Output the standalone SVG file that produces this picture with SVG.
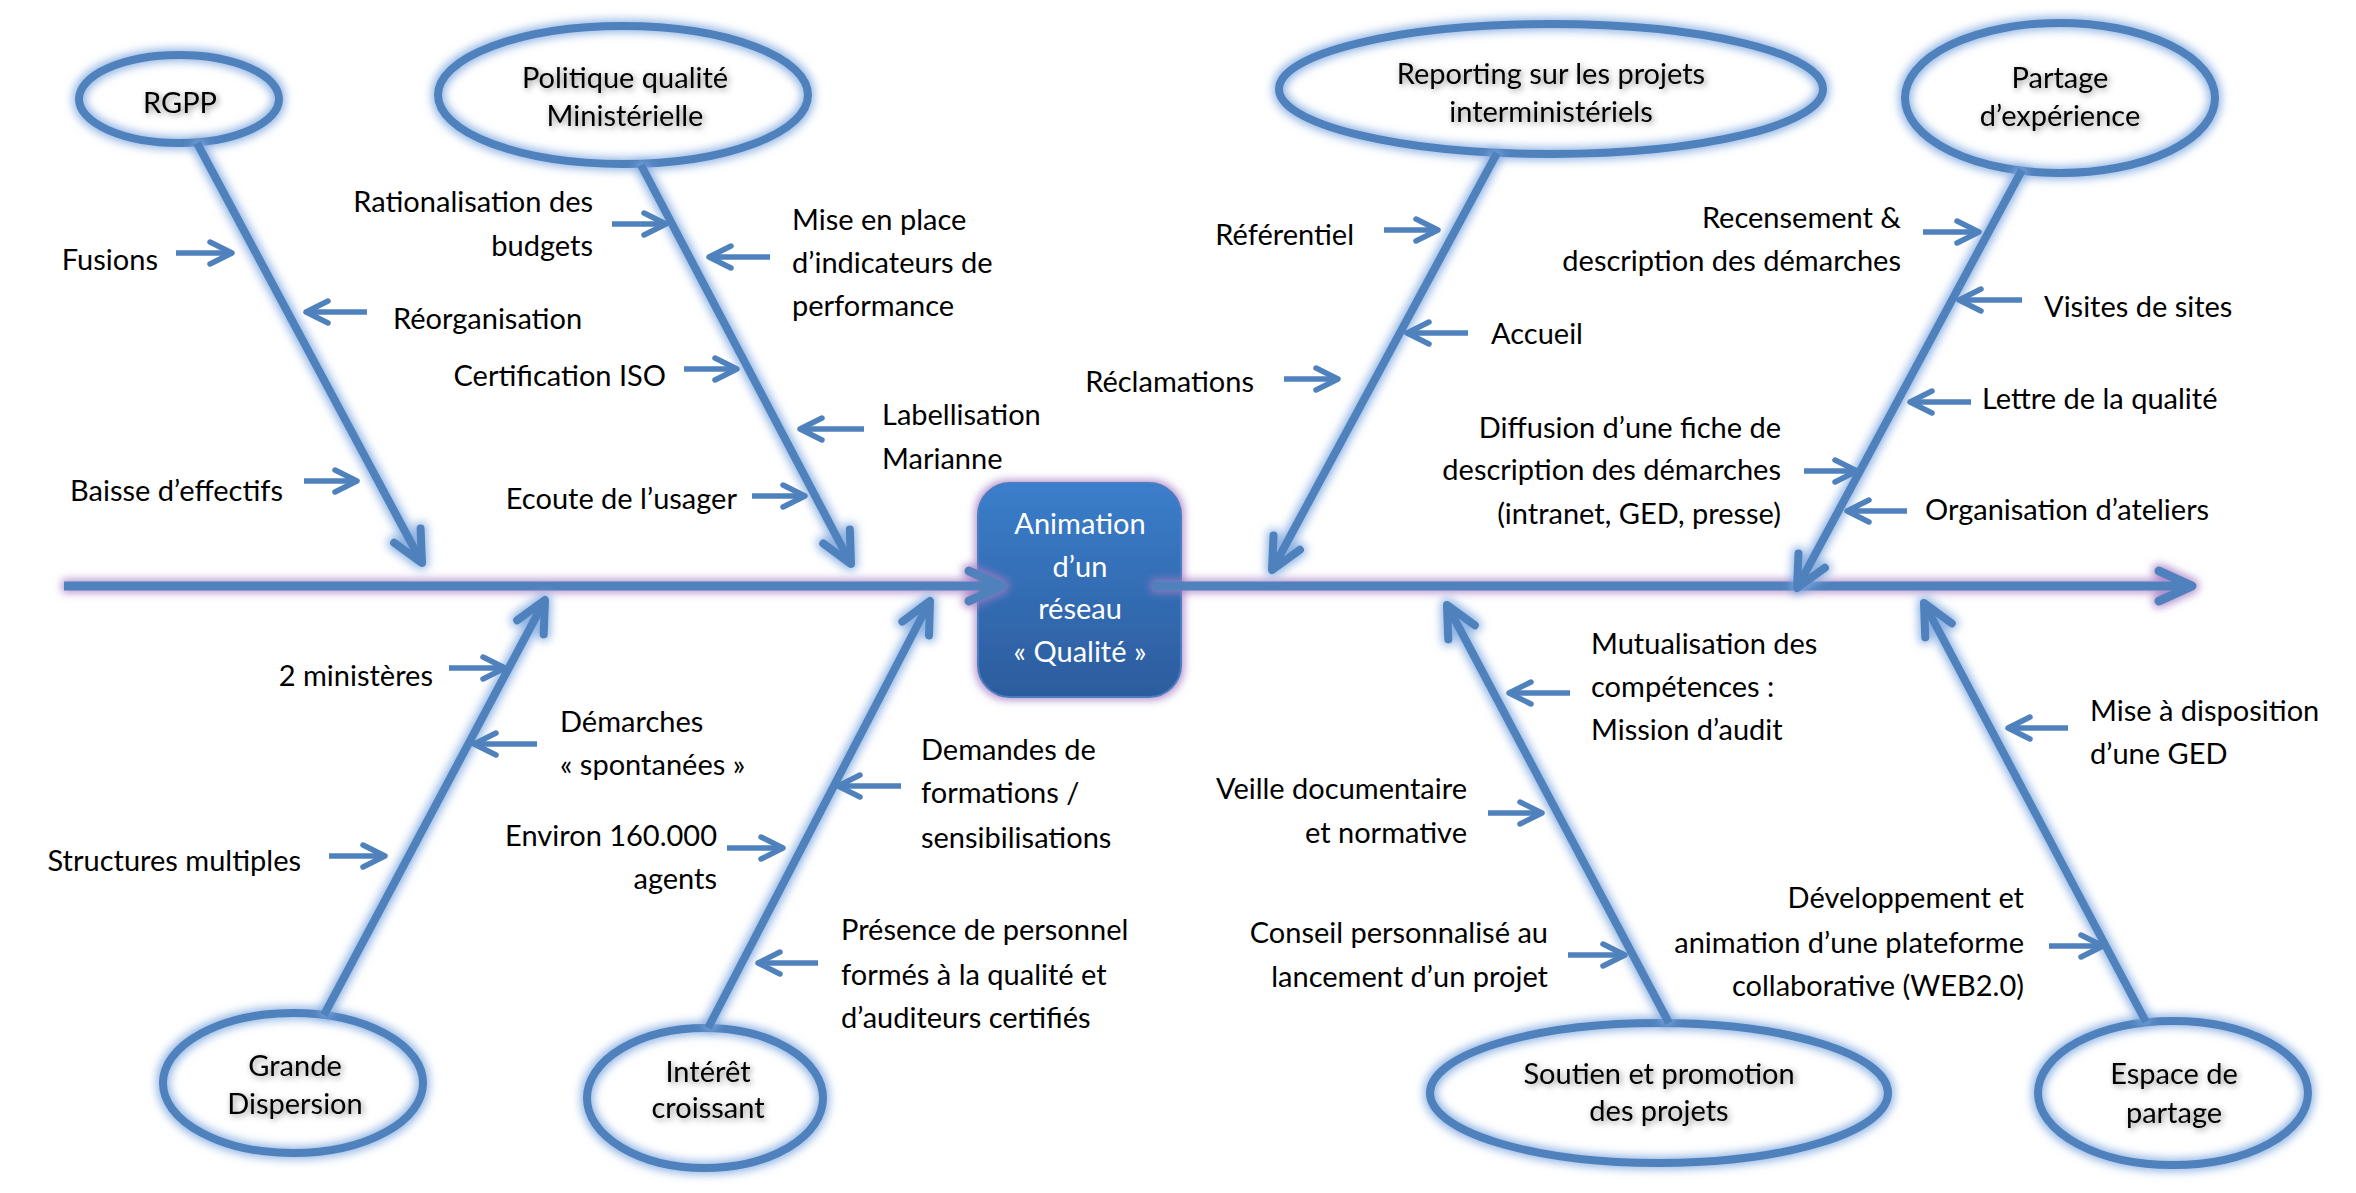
<svg xmlns="http://www.w3.org/2000/svg" width="2356" height="1193" viewBox="0 0 2356 1193">
<style>
  text{font-family:Lato,"Liberation Sans",sans-serif;font-size:29px;fill:#000}
  .e{text-anchor:end}
  .m{text-anchor:middle}
  .ell text{text-anchor:middle;filter:url(#tsh)}
  .ell ellipse{fill:none;stroke:#4f81bd;stroke-width:8;filter:url(#glowB)}
  .box text{fill:#fff;text-anchor:middle}
  .br{stroke:#4f81bd;stroke-width:8;fill:none;marker-end:url(#aB)}
  .sm{stroke:#4f81bd;stroke-width:5.5;fill:none;marker-end:url(#aS)}
  .sp{stroke:#4f81bd;stroke-width:9;fill:none;marker-end:url(#aP)}
</style>
<defs>
  <linearGradient id="boxG" x1="0" y1="0" x2="0" y2="1">
    <stop offset="0" stop-color="#3b7ecb"/>
    <stop offset="1" stop-color="#2c5c9d"/>
  </linearGradient>
  <filter id="glowB" filterUnits="userSpaceOnUse" x="0" y="0" width="2356" height="1193">
    <feMorphology in="SourceAlpha" operator="dilate" radius="2" result="d"/>
    <feGaussianBlur in="d" stdDeviation="5" result="b"/>
    <feFlood flood-color="#7fa8df" flood-opacity="0.9"/>
    <feComposite in2="b" operator="in" result="g"/>
    <feMerge><feMergeNode in="g"/><feMergeNode in="SourceGraphic"/></feMerge>
  </filter>
  <filter id="glowP" filterUnits="userSpaceOnUse" x="0" y="0" width="2356" height="1193">
    <feMorphology in="SourceAlpha" operator="dilate" radius="2" result="d"/>
    <feGaussianBlur in="d" stdDeviation="4" result="b"/>
    <feFlood flood-color="#a47cc4" flood-opacity="0.85"/>
    <feComposite in2="b" operator="in" result="g"/>
    <feMerge><feMergeNode in="g"/><feMergeNode in="SourceGraphic"/></feMerge>
  </filter>
  <filter id="tsh" filterUnits="userSpaceOnUse" x="0" y="0" width="2356" height="1193">
    <feGaussianBlur in="SourceAlpha" stdDeviation="3" result="b"/>
    <feOffset in="b" dx="2" dy="2" result="o"/>
    <feFlood flood-color="#000" flood-opacity="0.45"/>
    <feComposite in2="o" operator="in" result="s"/>
    <feMerge><feMergeNode in="s"/><feMergeNode in="SourceGraphic"/></feMerge>
  </filter>
  <marker id="aS" markerUnits="userSpaceOnUse" orient="auto" overflow="visible" refX="0" refY="0" markerWidth="30" markerHeight="30">
    <path d="M-22,-11 L0,0 L-22,11" fill="none" stroke="#4f81bd" stroke-width="5.5" stroke-linecap="round" stroke-linejoin="round"/>
  </marker>
  <marker id="aB" markerUnits="userSpaceOnUse" orient="auto" overflow="visible" refX="0" refY="0" markerWidth="40" markerHeight="40">
    <path d="M-31,-15 L0,0 L-31,15" fill="none" stroke="#4f81bd" stroke-width="8" stroke-linecap="round" stroke-linejoin="round"/>
  </marker>
  <marker id="aP" markerUnits="userSpaceOnUse" orient="auto" overflow="visible" refX="0" refY="0" markerWidth="40" markerHeight="40">
    <path d="M-33,-15 L0,0 L-33,15" fill="none" stroke="#4f81bd" stroke-width="9" stroke-linecap="round" stroke-linejoin="round"/>
  </marker>
</defs>
<rect width="2356" height="1193" fill="#fff"/>

<g id="center" class="box">
  <rect x="978" y="483" width="203" height="214" rx="32" fill="url(#boxG)" stroke="#4a7cc0" stroke-width="2" filter="url(#glowP)"/>
  <text x="1080" y="534">Animation</text>
  <text x="1080" y="577">d’un</text>
  <text x="1080" y="619">réseau</text>
  <text x="1080" y="662">« Qualité »</text>
</g>

<g id="rgpp" class="ell">
  <ellipse cx="179" cy="99" rx="100" ry="44"/>
  <text x="180" y="113">RGPP</text>
</g>
<g id="politique" class="ell">
  <ellipse cx="623" cy="95" rx="185" ry="69"/>
  <text x="625" y="88">Politique qualité</text>
  <text x="625" y="126">Ministérielle</text>
</g>
<g id="reporting" class="ell">
  <ellipse cx="1551" cy="89" rx="272" ry="65"/>
  <text x="1551" y="84">Reporting sur les projets</text>
  <text x="1551" y="122">interministériels</text>
</g>
<g id="partage" class="ell">
  <ellipse cx="2060" cy="98" rx="155" ry="75"/>
  <text x="2060" y="88">Partage</text>
  <text x="2060" y="126">d’expérience</text>
</g>
<g id="dispersion" class="ell">
  <ellipse cx="293" cy="1083" rx="130" ry="70"/>
  <text x="295" y="1076">Grande</text>
  <text x="295" y="1114">Dispersion</text>
</g>
<g id="interet" class="ell">
  <ellipse cx="705" cy="1098" rx="118" ry="70"/>
  <text x="708" y="1082">Intérêt</text>
  <text x="708" y="1118">croissant</text>
</g>
<g id="soutien" class="ell">
  <ellipse cx="1659" cy="1093" rx="229" ry="70"/>
  <text x="1659" y="1084">Soutien et promotion</text>
  <text x="1659" y="1121">des projets</text>
</g>
<g id="espace" class="ell">
  <ellipse cx="2173" cy="1093" rx="135" ry="72"/>
  <text x="2174" y="1084">Espace de</text>
  <text x="2174" y="1123">partage</text>
</g>

<g id="connectors">
  <g id="spine" filter="url(#glowP)">
    <line class="sp" x1="64" y1="586" x2="1002" y2="586"/>
    <line class="sp" x1="1153" y1="586" x2="2192" y2="586"/>
  </g>
  <g id="branches" filter="url(#glowB)">
    <line class="br" x1="197" y1="143" x2="422" y2="563"/>
    <line class="br" x1="641" y1="165" x2="851" y2="564"/>
    <line class="br" x1="1497" y1="153" x2="1272" y2="570"/>
    <line class="br" x1="2022" y1="170" x2="1797" y2="588"/>
    <line class="br" x1="324" y1="1015" x2="545" y2="600"/>
    <line class="br" x1="708" y1="1028" x2="930" y2="601"/>
    <line class="br" x1="1669" y1="1023" x2="1447" y2="605"/>
    <line class="br" x1="2146" y1="1022" x2="1924" y2="603"/>
  </g>
  <g id="small-arrows">
    <line class="sm" x1="176" y1="253" x2="232" y2="253"/>
    <line class="sm" x1="304" y1="481" x2="357" y2="481"/>
    <line class="sm" x1="612" y1="224" x2="666" y2="224"/>
    <line class="sm" x1="684" y1="369" x2="737" y2="369"/>
    <line class="sm" x1="752" y1="496" x2="805" y2="496"/>
    <line class="sm" x1="1284" y1="379" x2="1338" y2="379"/>
    <line class="sm" x1="1384" y1="230" x2="1438" y2="230"/>
    <line class="sm" x1="1923" y1="232" x2="1979" y2="232"/>
    <line class="sm" x1="1804" y1="471" x2="1857" y2="471"/>
    <line class="sm" x1="449" y1="668" x2="505" y2="668"/>
    <line class="sm" x1="329" y1="856" x2="385" y2="856"/>
    <line class="sm" x1="727" y1="848" x2="783" y2="848"/>
    <line class="sm" x1="1488" y1="813" x2="1542" y2="813"/>
    <line class="sm" x1="1568" y1="955" x2="1625" y2="955"/>
    <line class="sm" x1="2049" y1="946" x2="2103" y2="946"/>
    <line class="sm" x1="367" y1="312" x2="306" y2="312"/>
    <line class="sm" x1="770" y1="257" x2="709" y2="257"/>
    <line class="sm" x1="864" y1="429" x2="800" y2="429"/>
    <line class="sm" x1="1468" y1="333" x2="1407" y2="333"/>
    <line class="sm" x1="2022" y1="300" x2="1959" y2="300"/>
    <line class="sm" x1="1971" y1="402" x2="1910" y2="402"/>
    <line class="sm" x1="1907" y1="511" x2="1847" y2="511"/>
    <line class="sm" x1="537" y1="744" x2="474" y2="744"/>
    <line class="sm" x1="818" y1="963" x2="758" y2="963"/>
    <line class="sm" x1="901" y1="786" x2="838" y2="786"/>
    <line class="sm" x1="1570" y1="693" x2="1509" y2="693"/>
    <line class="sm" x1="2068" y1="728" x2="2008" y2="728"/>
  </g>
</g>

<g id="labels">
  <text class="e" x="158" y="270">Fusions</text>
  <text class="e" x="283" y="501">Baisse d’effectifs</text>
  <text x="393" y="329">Réorganisation</text>
  <text class="e" x="593" y="212">Rationalisation des</text>
  <text class="e" x="593" y="256">budgets</text>
  <text class="e" x="666" y="386">Certification ISO</text>
  <text class="e" x="737" y="509">Ecoute de l’usager</text>
  <text x="792" y="230">Mise en place</text>
  <text x="792" y="273">d’indicateurs de</text>
  <text x="792" y="316">performance</text>
  <text x="882" y="425">Labellisation</text>
  <text x="882" y="469">Marianne</text>
  <text class="e" x="1254" y="392">Réclamations</text>
  <text class="e" x="1354" y="245">Référentiel</text>
  <text x="1491" y="344">Accueil</text>
  <text class="e" x="1901" y="228">Recensement &amp;</text>
  <text class="e" x="1901" y="271">description des démarches</text>
  <text x="2044" y="317">Visites de sites</text>
  <text x="1982" y="409">Lettre de la qualité</text>
  <text class="e" x="1781" y="438">Diffusion d’une fiche de</text>
  <text class="e" x="1781" y="480">description des démarches</text>
  <text class="e" x="1781" y="524">(intranet, GED, presse)</text>
  <text x="1925" y="520">Organisation d’ateliers</text>
  <text class="e" x="433" y="686">2 ministères</text>
  <text x="560" y="732">Démarches</text>
  <text x="560" y="775">« spontanées »</text>
  <text class="e" x="301" y="871">Structures multiples</text>
  <text class="e" x="717" y="846">Environ 160.000</text>
  <text class="e" x="717" y="889">agents</text>
  <text x="921" y="760">Demandes de</text>
  <text x="921" y="803">formations /</text>
  <text x="921" y="848">sensibilisations</text>
  <text x="841" y="940">Présence de personnel</text>
  <text x="841" y="985">formés à la qualité et</text>
  <text x="841" y="1028">d’auditeurs certifiés</text>
  <text x="1591" y="654">Mutualisation des</text>
  <text x="1591" y="697">compétences :</text>
  <text x="1591" y="740">Mission d’audit</text>
  <text class="e" x="1467" y="799">Veille documentaire</text>
  <text class="e" x="1467" y="843">et normative</text>
  <text class="e" x="1548" y="943">Conseil personnalisé au</text>
  <text class="e" x="1548" y="987">lancement d’un projet</text>
  <text x="2090" y="721">Mise à disposition</text>
  <text x="2090" y="764">d’une GED</text>
  <text class="e" x="2024" y="908">Développement et</text>
  <text class="e" x="2024" y="953">animation d’une plateforme</text>
  <text class="e" x="2024" y="996">collaborative (WEB2.0)</text>
</g>
</svg>
